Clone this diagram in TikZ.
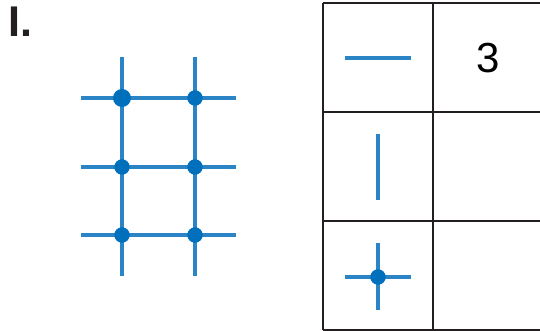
\documentclass[tikz,border=0pt]{standalone}
\usepackage{fontspec}
\setmainfont{Liberation Sans}
\definecolor{lineblue}{HTML}{2A84C6}
\definecolor{dotblue}{HTML}{0070BC}
\definecolor{tabgray}{HTML}{231F20}
\tikzset{
  gridline/.style={draw=lineblue, line width=4pt},
  dotbig/.style={circle, fill=dotblue, inner sep=0pt, minimum size=18pt},
  dotsmall/.style={circle, fill=dotblue, inner sep=0pt, minimum size=15.5pt},
  tabline/.style={draw=tabgray, line width=2pt},
}
\begin{document}
\begin{tikzpicture}[x=1pt,y=-1pt]
\useasboundingbox (0,0) rectangle (540,331);
% label
\node[anchor=base west, inner sep=0pt, font=\fontsize{43}{43}\selectfont\bfseries, text=tabgray] (lbl) at (8,37) {I.};
% grid lines
\coordinate (v1t) at (122,57); \coordinate (v1b) at (122,276);
\coordinate (v2t) at (195,57); \coordinate (v2b) at (195,276);
\coordinate (h1l) at (81,98);  \coordinate (h1r) at (236,98);
\coordinate (h2l) at (81,167); \coordinate (h2r) at (236,167);
\coordinate (h3l) at (81,235); \coordinate (h3r) at (236,235);
\draw[gridline] (v1t) -- (v1b);
\draw[gridline] (v2t) -- (v2b);
\draw[gridline] (h1l) -- (h1r);
\draw[gridline] (h2l) -- (h2r);
\draw[gridline] (h3l) -- (h3r);
\node[dotbig] (d11) at (122,98) {};
\node[dotsmall] (d12) at (195,98) {};
\node[dotsmall] (d21) at (122,167) {};
\node[dotsmall] (d22) at (195,167) {};
\node[dotsmall] (d31) at (122,235) {};
\node[dotsmall] (d32) at (195,235) {};
% table
\coordinate (tl) at (323,3); \coordinate (tr) at (541,3);
\coordinate (r1l) at (323,112); \coordinate (r1r) at (541,112);
\coordinate (r2l) at (323,221); \coordinate (r2r) at (541,221);
\coordinate (bl) at (323,330); \coordinate (br) at (541,330);
\coordinate (mt) at (433,3); \coordinate (mb) at (433,330);
\draw[tabline] (tl) -- (tr);
\draw[tabline] (r1l) -- (r1r);
\draw[tabline] (r2l) -- (r2r);
\draw[tabline] (bl) -- (br);
\draw[tabline] (tl) -- (bl);
\draw[tabline] (mt) -- (mb);
% symbols
\coordinate (s1l) at (345,58); \coordinate (s1r) at (411,58);
\draw[gridline] (s1l) -- (s1r);
\coordinate (s2t) at (378,134); \coordinate (s2b) at (378,200);
\draw[gridline] (s2t) -- (s2b);
\coordinate (s3l) at (345,277); \coordinate (s3r) at (411,277);
\coordinate (s3t) at (378,243); \coordinate (s3b) at (378,310);
\draw[gridline] (s3l) -- (s3r);
\draw[gridline] (s3t) -- (s3b);
\node[dotsmall] (s3d) at (378,277) {};
% number
\node[font=\fontsize{42}{42}\selectfont, inner sep=0pt] (n3) at (488,58) {3};
\end{tikzpicture}
\end{document}
